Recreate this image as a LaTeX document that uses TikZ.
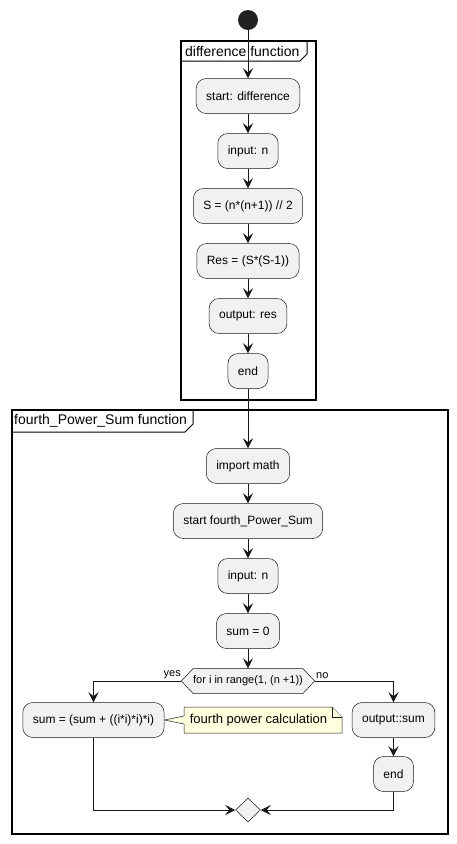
\documentclass[tikz,border=0pt]{standalone}
\usepackage{fontspec}
\setmainfont{Liberation Sans}
\usetikzlibrary{arrows.meta,shapes.geometric,backgrounds}
\definecolor{boxfill}{HTML}{F1F1F1}
\definecolor{boxline}{HTML}{181818}
\definecolor{notefill}{HTML}{FEFFDD}
\definecolor{dotfill}{HTML}{222222}

\begin{document}
\begin{tikzpicture}[
	x=1pt, y=-1pt,
	action/.style={ rectangle, rounded corners=10pt, draw=boxline, line width=0.5pt, fill=boxfill, minimum height=35pt, inner xsep=10pt, font=\fontsize{12}{14}\selectfont },
	startdot/.style={ circle, fill=dotfill, inner sep=0pt, minimum size=20pt },
	joinbox/.style={ diamond, draw=boxline, line width=0.5pt, fill=boxfill, inner sep=0pt, minimum width=25pt, minimum height=24pt },
	condbox/.style={ rectangle, inner sep=0pt, minimum width=133pt, minimum height=25pt, font=\fontsize{11}{13}\selectfont },
	condline/.style={ draw=boxline, line width=0.5pt, fill=boxfill },
	notebox/.style={ rectangle, inner sep=0pt, font=\fontsize{13}{15}\selectfont },
	noteline/.style={ draw=boxline, line width=0.5pt, fill=notefill },
	frametitle/.style={ anchor=west, inner sep=0pt, font=\fontsize{14}{16}\selectfont },
	frameline/.style={ draw=black, line width=1.5pt },
	tabline/.style={ draw=black, line width=1pt },
	flow/.style={ draw=boxline, line width=1pt, -{Stealth[length=10pt,width=10pt,inset=4pt]} },
	branch/.style={ inner sep=0pt, font=\fontsize{11}{13}\selectfont }
]

\useasboundingbox (0,0) rectangle (457,844);

\draw[frameline] (181,41) rectangle (316,400);
\draw[tabline] (181,61) -- (300,61) -- (307,54) -- (307,41);
\node[frametitle] at (185,51) (t1) {difference function};

\draw[frameline] (12,410) rectangle (448,834);
\draw[tabline] (12,432) -- (185,432) -- (193,424) -- (193,410);
\node[frametitle] at (14,421) (t2) {fourth\_Power\_Sum function};

\node[startdot] at (248,20) (s0) {};
\node[action] at (248,96) (d1) {start: difference};
\node[action] at (248,151) (d2) {input: n};
\node[action] at (248,206) (d3) {S = (n*(n+1)) // 2};
\node[action] at (248,261) (d4) {Res = (S*(S-1))};
\node[action] at (248,316) (d5) {output: res};
\node[action] at (248,371) (d6) {end};

\node[action] at (248,466) (f1) {import math};
\node[action] at (248,521) (f2) {start fourth\_Power\_Sum};
\node[action] at (248,576) (f3) {input: n};
\node[action] at (248,631) (f4) {sum = 0};
\node[condbox] at (248,681) (loop) {for i in range(1, (n +1))};
\node[action] at (93.5,720) (f5) {sum = (sum + ((i*i)*i)*i)};
\node[notebox] at (258.5,720) (note) {fourth power calculation};
\node[action] at (393.5,720) (f6) {output::sum};
\node[action] at (393.5,774) (f7) {end};
\node[joinbox] at (248,810) (j1) {};

\begin{scope}[on background layer]
\draw[condline] (loop.west) -- ([xshift=12pt]loop.north west) -- ([xshift=-12pt]loop.north east) -- (loop.east) -- ([xshift=-12pt]loop.south east) -- ([xshift=12pt]loop.south west) -- cycle;
\draw[noteline] (184,707) -- (332,707) -- (342,717) -- (342,733) -- (184,733) -- (184,724) -- (f5.east) -- (184,716) -- cycle;
\draw[noteline] (332,707) -- (332,717) -- (342,717);
\end{scope}

\node[branch, anchor=south east] at (181,679) (yes) {yes};
\node[branch, anchor=south west] at (316,679) (no) {no};

\draw[flow] (s0) -- (d1);
\draw[flow] (d1) -- (d2);
\draw[flow] (d2) -- (d3);
\draw[flow] (d3) -- (d4);
\draw[flow] (d4) -- (d5);
\draw[flow] (d5) -- (d6);
\draw[flow] (d6) -- (f1);
\draw[flow] (f1) -- (f2);
\draw[flow] (f2) -- (f3);
\draw[flow] (f3) -- (f4);
\draw[flow] (f4) -- (loop);
\draw[flow] (loop.west) -| (f5);
\draw[flow] (loop.east) -| (f6);
\draw[flow] (f6) -- (f7);
\draw[flow] (f5) |- (j1);
\draw[flow] (f7) |- (j1);

\end{tikzpicture}
\end{document}
